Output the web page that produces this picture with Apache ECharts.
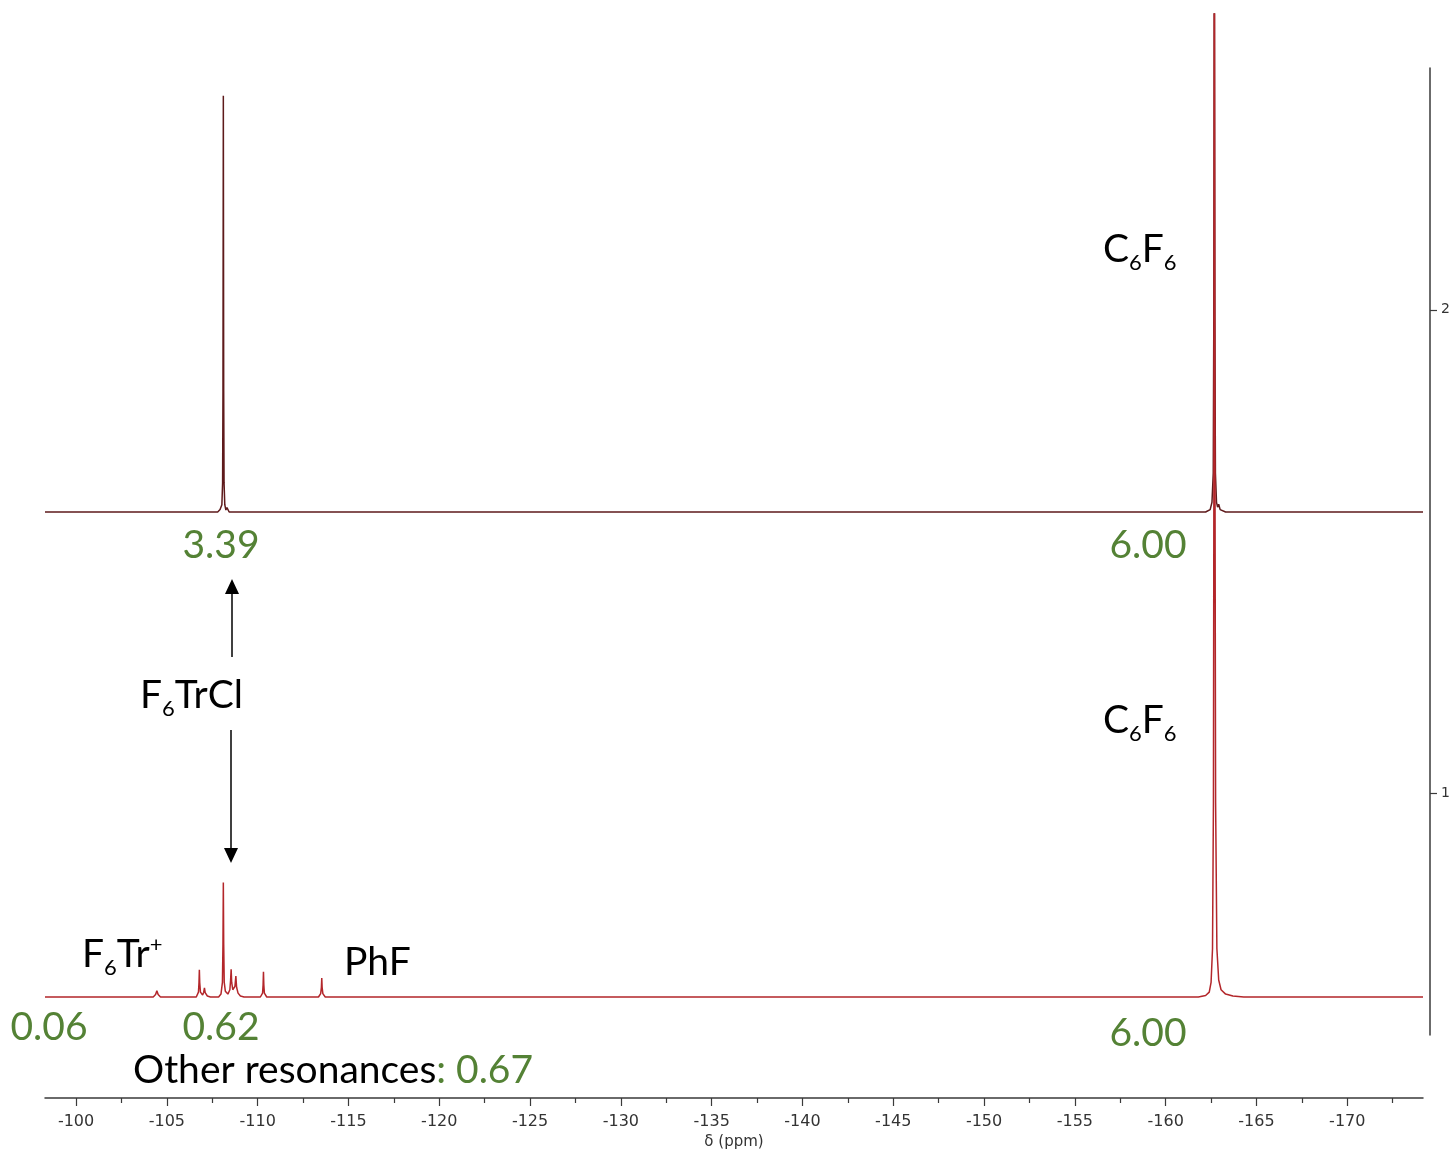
<!DOCTYPE html>
<html>
<head>
<meta charset="utf-8">
<script src="https://cdn.jsdelivr.net/npm/echarts@6/dist/echarts.min.js"></script>
<style>
  html, body { margin: 0; padding: 0; background: #ffffff; }
  #chart { width: 1456px; height: 1151px; }
</style>
</head>
<body>
<div id="chart"></div>
<script>
// ---- 19F NMR data: chemical shift (ppm) vs. intensity ----
const shiftMin = -174.17;
const shiftMax = -98.29;
const majorTicks = [-100, -105, -110, -115, -120, -125, -130, -135, -140, -145, -150, -155, -160, -165, -170];
const tickLabels = ['-100', '-105', '-110', '-115', '-120', '-125', '-130', '-135', '-140', '-145', '-150', '-155', '-160', '-165', '-170'];
const minorTicks = [-102.5, -107.5, -112.5, -117.5, -122.5, -127.5, -132.5, -137.5, -142.5, -147.5, -152.5, -157.5, -162.5, -167.5, -172.5];
const traceTicks = [1, 2];

// upper trace: F6TrCl with C6F6 standard
// (neighbouring points are kept > 2 px apart so the polyline keeps every vertex)
const upperSpectrum = [
  [-98.29, 0], [-107.80, 0], [-107.93, 0.005], [-108.03, 0.015], [-108.07, 0.06], [-108.09, 0.25],
  [-108.11, 0.858], [-108.13, 0.25], [-108.15, 0.06], [-108.19, 0.015], [-108.25, 0.004], [-108.31, 0.009],
  [-108.43, 0],
  [-162.20, 0], [-162.45, 0.005], [-162.55, 0.02], [-162.62, 0.08], [-162.65, 0.4], [-162.68, 1.2],
  [-162.71, 0.4], [-162.74, 0.08], [-162.80, 0.02], [-162.86, 0.01], [-162.92, 0.016], [-163.00, 0.005],
  [-163.30, 0], [-174.17, 0]
];

// lower trace: reaction mixture with C6F6 standard
const lowerSpectrum = [
  [-98.29, 0],
  [-104.25, 0], [-104.38, 0.005], [-104.45, 0.013], [-104.52, 0.005], [-104.65, 0],
  [-106.62, 0], [-106.74, 0.01], [-106.77, 0.03], [-106.79, 0.056], [-106.81, 0.03], [-106.85, 0.01],
  [-106.97, 0.004], [-107.03, 0.01], [-107.07, 0.019], [-107.11, 0.009], [-107.23, 0.002], [-107.40, 0],
  [-107.85, 0], [-107.98, 0.006], [-108.06, 0.03], [-108.09, 0.11], [-108.11, 0.236], [-108.13, 0.11],
  [-108.16, 0.03], [-108.22, 0.012], [-108.36, 0.006], [-108.47, 0.015], [-108.51, 0.035], [-108.54, 0.057],
  [-108.57, 0.03], [-108.63, 0.015], [-108.75, 0.022], [-108.80, 0.043], [-108.84, 0.02], [-108.92, 0.008],
  [-109.05, 0.002], [-109.25, 0],
  [-110.15, 0], [-110.27, 0.008], [-110.30, 0.025], [-110.32, 0.052], [-110.34, 0.025], [-110.37, 0.008], [-110.50, 0],
  [-113.35, 0], [-113.47, 0.007], [-113.51, 0.02], [-113.53, 0.039], [-113.55, 0.02], [-113.59, 0.007], [-113.72, 0],
  [-161.80, 0], [-162.20, 0.003], [-162.40, 0.01], [-162.50, 0.03], [-162.58, 0.1], [-162.63, 0.4],
  [-162.66, 1.2], [-162.68, 2.3], [-162.71, 1.2], [-162.75, 0.4], [-162.82, 0.1], [-162.92, 0.035],
  [-163.05, 0.015], [-163.30, 0.006], [-163.70, 0.002], [-164.30, 0], [-174.17, 0]
];

// integrals
const upperIntegrals = ['3.39', '6.00'];
const lowerIntegrals = ['0.06', '0.62', '6.00'];
const otherIntegral = '0.67';

const TRACE_OFFSET = 1.0;
const GREEN = '#548235';
const AXIS_FONT = 'DejaVu Sans';
const LABEL_FONT = 'Lato';

const chart = echarts.init(document.getElementById('chart'), null, { renderer: 'canvas' });

chart.setOption({
  animation: false,
  backgroundColor: '#ffffff',
  grid: [
    { left: 45, right: 33, top: 14, bottom: 53, containLabel: false, outerBoundsMode: 'none' },
    { left: 45, right: 26, top: 68, height: 967, containLabel: false, outerBoundsMode: 'none' }
  ],
  xAxis: [
    {
      type: 'value', gridIndex: 0, inverse: true, min: shiftMin, max: shiftMax, position: 'bottom',
      name: 'δ (ppm)', nameLocation: 'middle', nameGap: 35,
      nameTextStyle: { fontFamily: AXIS_FONT, fontSize: 15, color: '#333' },
      axisLine: { show: true, onZero: false, lineStyle: { color: '#3a3a3a', width: 1.5 } },
      axisTick: { show: true, customValues: majorTicks, length: 8, lineStyle: { color: '#3a3a3a', width: 1.2 } },
      axisLabel: {
        customValues: majorTicks, margin: 16, fontFamily: AXIS_FONT, fontSize: 16, color: '#333',
        formatter: (v) => tickLabels[majorTicks.indexOf(v)] ?? String(v)
      },
      splitLine: { show: false }
    },
    {
      type: 'value', gridIndex: 0, inverse: true, min: shiftMin, max: shiftMax, position: 'bottom',
      axisLine: { show: false, onZero: false },
      axisTick: { show: true, customValues: minorTicks, length: 5, lineStyle: { color: '#3a3a3a', width: 1.2 } },
      axisLabel: { show: false },
      splitLine: { show: false }
    },
    { type: 'value', gridIndex: 1, min: 0, max: 1, show: false }
  ],
  yAxis: [
    { type: 'value', gridIndex: 0, min: -0.20825, max: 2.0268, show: false },
    {
      type: 'value', gridIndex: 1, position: 'right', min: 0.5, max: 2.5,
      axisLine: { show: true, onZero: false, lineStyle: { color: '#3a3a3a', width: 1.5 } },
      axisTick: { show: true, customValues: traceTicks, length: 7, lineStyle: { color: '#3a3a3a', width: 1.2 } },
      axisLabel: { customValues: traceTicks, margin: 11, fontFamily: AXIS_FONT, fontSize: 14, color: '#333' },
      splitLine: { show: false }
    }
  ],
  series: [
    {
      name: 'upper', type: 'line', xAxisIndex: 0, yAxisIndex: 0, symbol: 'none', clip: true,
      data: upperSpectrum.map(([x, y]) => [x, y + TRACE_OFFSET]),
      lineStyle: { color: '#5e1a1b', width: 1.5 }, z: 2
    },
    {
      name: 'lower', type: 'line', xAxisIndex: 0, yAxisIndex: 0, symbol: 'none', clip: true,
      data: lowerSpectrum,
      lineStyle: { color: '#b3262a', width: 1.5 }, z: 3
    }
  ]
});

// ---- annotations: composed text with sub/superscripts ----
const measureCtx = document.createElement('canvas').getContext('2d');
function composed(x, baseline, parts) {
  const els = [];
  let cx = x;
  parts.forEach(([text, role, color]) => {
    const size = role === 'n' ? 39 : 22;
    const font = `${size}px ${LABEL_FONT}`;
    measureCtx.font = font;
    measureCtx.textBaseline = 'middle';
    const w = measureCtx.measureText(text).width;
    const off = measureCtx.measureText('H').actualBoundingBoxDescent;
    const shift = role === 'sub' ? 8 : role === 'sup' ? -15 : 0;
    els.push({
      type: 'text', x: cx, y: baseline + shift - off, silent: true,
      style: { text, font, fill: color || '#000', align: 'left', verticalAlign: 'middle',
               textAlign: 'left', textVerticalAlign: 'middle' }
    });
    cx += w;
  });
  return els;
}
function centered(cxPos, baseline, text, color) {
  const font = `39px ${LABEL_FONT}`;
  measureCtx.font = font;
  measureCtx.textBaseline = 'middle';
  const off = measureCtx.measureText('H').actualBoundingBoxDescent;
  return {
    type: 'text', x: cxPos, y: baseline - off, silent: true,
    style: { text, font, fill: color, align: 'center', verticalAlign: 'middle',
             textAlign: 'center', textVerticalAlign: 'middle' }
  };
}
function arrow(x, yTail, yTip) {
  const dir = yTip < yTail ? -1 : 1;
  const headLen = 15, headHalf = 7;
  return [
    { type: 'line', silent: true, shape: { x1: x, y1: yTail, x2: x, y2: yTip - dir * headLen },
      style: { stroke: '#000', lineWidth: 1.5 } },
    { type: 'polygon', silent: true,
      shape: { points: [[x, yTip], [x - headHalf, yTip - dir * headLen], [x + headHalf, yTip - dir * headLen]] },
      style: { fill: '#000' } }
  ];
}

const graphics = [].concat(
  composed(1103, 262, [['C', 'n'], ['6', 'sub'], ['F', 'n'], ['6', 'sub']]),
  composed(1103, 733, [['C', 'n'], ['6', 'sub'], ['F', 'n'], ['6', 'sub']]),
  composed(140, 708, [['F', 'n'], ['6', 'sub'], ['TrCl', 'n']]),
  composed(82, 967, [['F', 'n'], ['6', 'sub'], ['Tr', 'n'], ['+', 'sup']]),
  composed(344, 975, [['PhF', 'n']]),
  composed(133, 1083, [['Other resonances', 'n'], [': ' + otherIntegral, 'n', GREEN]]),
  [
    centered(221, 558, upperIntegrals[0], GREEN),
    centered(1148, 558, upperIntegrals[1], GREEN),
    centered(49, 1040, lowerIntegrals[0], GREEN),
    centered(221, 1040, lowerIntegrals[1], GREEN),
    centered(1148, 1046, lowerIntegrals[2], GREEN)
  ],
  arrow(232, 657, 579),
  arrow(231, 730, 863)
);

chart.setOption({ graphic: { elements: graphics } });
</script>
</body>
</html>
